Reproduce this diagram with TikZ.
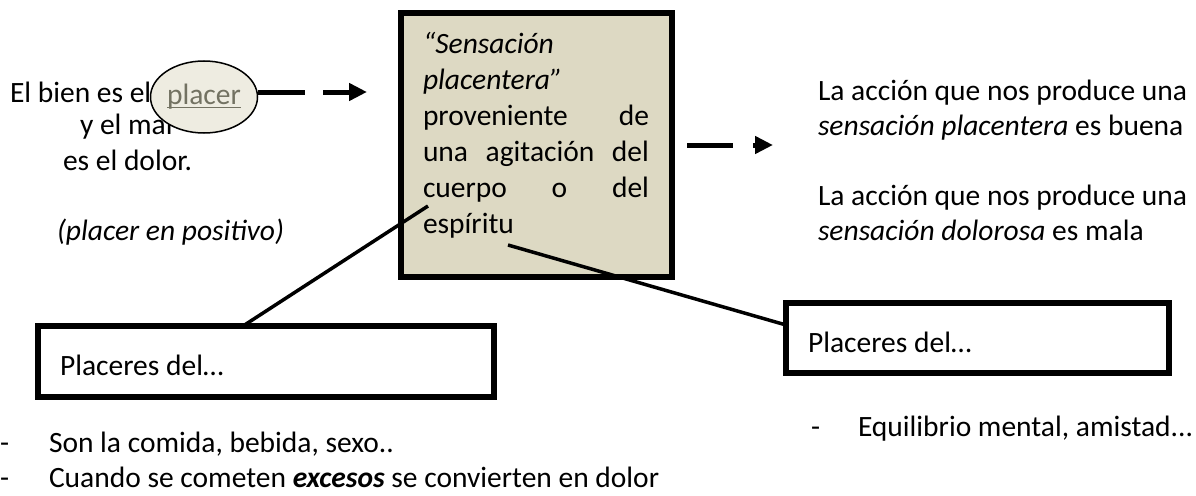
\documentclass[tikz,border=0pt]{standalone}
\usepackage{fontspec}
\setmainfont{Carlito}
\usetikzlibrary{arrows.meta,shapes.geometric}
\definecolor{boxfill}{HTML}{DDD9C3}
\definecolor{ellfill}{HTML}{EEECE1}
\definecolor{plcol}{HTML}{737262}
\newcommand\myunderline[1]{\setbox0\hbox{#1}\rlap{\rule[-3.5pt]{\wd0}{1.4pt}}\box0}
\begin{document}
\begin{tikzpicture}[x=1pt,y=-1pt,
  every node/.style={font=\fontsize{29.5}{35}\selectfont, inner sep=0pt, outer sep=0pt},
  txt/.style={anchor=base west, align=left},
  mainbox/.style={draw, line width=6pt, fill=boxfill, rectangle, minimum width=271pt, minimum height=264pt},
  subbox/.style={draw, line width=6pt, fill=white, rectangle},
  ell/.style={draw, line width=1.5pt, fill=ellfill, ellipse, minimum width=107pt, minimum height=72pt},
  conn/.style={line width=3.5pt},
  darrow/.style={line width=5pt, -{Triangle[length=18pt,width=17pt]}}
]
\useasboundingbox (0,0) rectangle (1196,495);

% left text
\node[txt] (t1) at (10,102) {El bien es el};
\node[txt] (t2) at (80,134) {y el mal};
\node[txt] (t3) at (63,170) {es el dolor.};
\node[txt] (t4) at (57,240) {\itshape (placer en positivo)};

% ellipse
\node[ell] (ell) at (204,97) {\color{plcol}\myunderline{placer}};

% main box
\node[mainbox] (main) at (536.5,145) {};
\node[txt, font=\fontsize{29.5}{36}\selectfont] (mt) at (423,233) {%
  \itshape “Sensación\\
  \itshape placentera”\\
  \hbox to 226pt{proveniente\hfill de}\\
  \hbox to 226pt{una\hfill agitación\hfill del}\\
  \hbox to 226pt{cuerpo\hfill o\hfill del}\\
  espíritu};

% arrows
\coordinate (a1s) at (258,92);
\coordinate (a1e) at (367,92);
\draw[darrow, dash pattern=on 47pt off 18pt on 200pt] (a1s) -- (a1e);
\coordinate (a2s) at (687,145);
\coordinate (a2e) at (773,145);
\draw[darrow, dash pattern=on 46pt off 20pt on 200pt] (a2s) -- (a2e);

% right text
\node[txt] (r1) at (818,135) {La acción que nos produce una\\ \textit{sensación placentera} es buena};
\node[txt] (r2) at (818,240) {La acción que nos produce una\\ \textit{sensación dolorosa} es mala};

% sub boxes
\node[subbox, minimum width=456pt, minimum height=71pt] (lbox) at (266,361.5) {};
\node[txt] (lbt) at (60,375) {Placeres del…};
\node[subbox, minimum width=383pt, minimum height=70pt] (rbox) at (977.5,338) {};
\node[txt] (rbt) at (808,352) {Placeres del…};

% connectors
\coordinate (lc1) at (428,206);
\coordinate (lc2) at (243,326);
\draw[conn] (lc1) -- (lc2);
\coordinate (rc1) at (508,245);
\coordinate (rc2) at (786,325);
\draw[conn] (rc1) -- (rc2);

% lists
\node[txt] (d1) at (0,452) {-};
\node[txt] (l1) at (49,452) {Son la comida, bebida, sexo..};
\node[txt] (d2) at (0,487) {-};
\node[txt] (l2) at (49,487) {Cuando se cometen \textbf{\textit{excesos}} se convierten en dolor};
\node[txt] (d3) at (811,436) {-};
\node[txt] (l3) at (858,436) {Equilibrio mental, amistad...};
\end{tikzpicture}
\end{document}
